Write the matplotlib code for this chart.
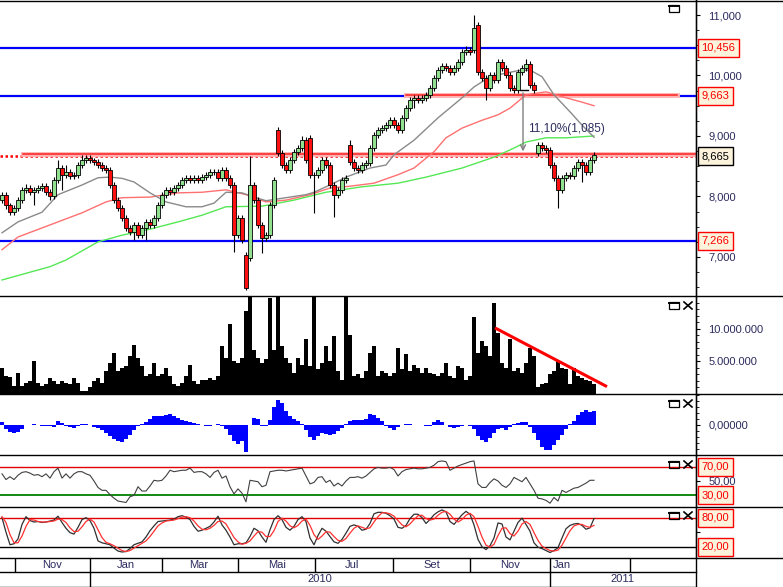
import numpy as np
import matplotlib.pyplot as plt
from matplotlib.patches import Rectangle
from matplotlib.lines import Line2D
from matplotlib.ticker import MultipleLocator

plt.rcParams['font.family'] = ['Liberation Sans', 'DejaVu Sans']

# one candle = two sessions, Oct 2009 .. Feb 2011
opn = [7950, 8025, 7860, 7745, 7810, 7940, 8105, 8140, 8075, 8105,
       8140, 8175, 8075, 8010, 8270, 8470, 8355, 8405, 8340, 8355,
       8520, 8600, 8635, 8600, 8570, 8520, 8470, 8440, 8190, 7940,
       7810, 7645, 7480, 7415, 7530, 7365, 7480, 7580, 7530, 7645,
       7860, 8025, 8105, 8075, 8140, 8190, 8275, 8305, 8275, 8305,
       8275, 8320, 8355, 8405, 8405, 8305, 8440, 8305, 8190, 7365,
       7645, 7030, 6980, 8190, 7940, 7530, 7315, 7365, 7860, 9100,
       8720, 8520, 8440, 8600, 8735, 8800, 8935, 8970, 8355, 8355,
       8440, 8600, 8520, 8190, 8025, 8105, 8275, 8850, 8570, 8470,
       8440, 8520, 8555, 8800, 9015, 9100, 9130, 9180, 9265, 9180,
       9100, 9300, 9465, 9595, 9630, 9595, 9630, 9680, 9795, 9960,
       10090, 10155, 10125, 10060, 10125, 10225, 10390, 10420, 10420, 10835,
       10060, 9960, 9795, 10010, 9925, 10225, 10125, 10010, 9795, 9760,
       10060, 10125, 10190, 9845, 8720, 8850, 8800, 8770, 8520, 8305,
       8105, 8305, 8355, 8340, 8470, 8570, 8520, 8405, 8600]
close = [8025, 7860, 7745, 7810, 7940, 8105, 8140, 8075, 8105, 8140,
         8175, 8075, 8010, 8270, 8470, 8355, 8405, 8340, 8355, 8520,
         8600, 8635, 8600, 8570, 8520, 8470, 8440, 8190, 7940, 7810,
         7645, 7480, 7415, 7530, 7365, 7480, 7580, 7530, 7645, 7860,
         8025, 8105, 8075, 8140, 8190, 8275, 8305, 8275, 8305, 8275,
         8320, 8355, 8405, 8405, 8305, 8440, 8305, 8190, 7365, 7645,
         7280, 6490, 8190, 7940, 7530, 7315, 7365, 7860, 8275, 8720,
         8520, 8440, 8600, 8735, 8800, 8935, 8600, 8355, 8355, 8440,
         8600, 8520, 8190, 8025, 8105, 8275, 8305, 8570, 8470, 8440,
         8520, 8555, 8800, 9015, 9100, 9130, 9180, 9265, 9180, 9100,
         9300, 9465, 9595, 9630, 9595, 9630, 9680, 9795, 9960, 10090,
         10155, 10125, 10060, 10125, 10225, 10390, 10420, 10390, 10785, 10060,
         9960, 9795, 10010, 9925, 10225, 10125, 10010, 9795, 9760, 10060,
         10125, 10190, 9845, 9760, 8850, 8800, 8770, 8520, 8305, 8105,
         8305, 8355, 8340, 8470, 8570, 8520, 8405, 8600, 8685]
high = [8080, 8070, 7900, 7860, 7990, 8160, 8200, 8190, 8150, 8190,
        8230, 8220, 8120, 8320, 8600, 8520, 8520, 8450, 8400, 8570,
        8680, 8680, 8680, 8640, 8620, 8570, 8520, 8480, 8240, 7990,
        7860, 7700, 7530, 7580, 7580, 7530, 7630, 7630, 7700, 7910,
        8080, 8160, 8160, 8190, 8240, 8330, 8360, 8360, 8360, 8360,
        8370, 8410, 8460, 8460, 8460, 8490, 8490, 8350, 8240, 7700,
        7700, 7080, 8670, 8240, 7990, 7580, 7420, 7910, 8330, 9150,
        8770, 8570, 8650, 8790, 8850, 9000, 8980, 9020, 8410, 8490,
        8650, 8650, 8570, 8240, 8160, 8330, 8360, 8930, 8620, 8520,
        8570, 8610, 8850, 9070, 9150, 9180, 9230, 9320, 9320, 9230,
        9350, 9520, 9650, 9680, 9680, 9680, 9730, 9850, 10010, 10140,
        10210, 10210, 10180, 10180, 10280, 10440, 10480, 10470, 11000, 10880,
        10110, 10010, 10060, 10060, 10280, 10280, 10180, 10060, 9850, 10110,
        10180, 10280, 10240, 9900, 8900, 8900, 8850, 8820, 8570, 8350,
        8350, 8410, 8410, 8520, 8620, 8620, 8570, 8650, 8740]
low = [7900, 7800, 7700, 7690, 7760, 7900, 8060, 8020, 7860, 8060,
       8090, 8020, 7950, 7960, 8220, 8100, 8300, 8290, 8290, 8300,
       8470, 8550, 8550, 8520, 8470, 8420, 8390, 8140, 7890, 7760,
       7590, 7430, 7360, 7280, 7310, 7320, 7280, 7480, 7480, 7600,
       7810, 7970, 8020, 8020, 8090, 8140, 8220, 8220, 8220, 8220,
       8220, 8270, 8300, 8350, 8250, 8250, 8250, 8140, 7080, 7310,
       7230, 6450, 6930, 7890, 7480, 7060, 7260, 7310, 7810, 8670,
       8470, 8390, 8390, 8550, 8680, 8750, 8550, 8300, 7720, 8300,
       8390, 8470, 8140, 7660, 7970, 8050, 8220, 8520, 8420, 8390,
       8390, 8470, 8500, 8750, 8960, 9050, 9080, 9130, 9130, 9050,
       9050, 9250, 9410, 9460, 9540, 9540, 9580, 9630, 9740, 9910,
       10040, 10070, 10010, 10010, 10070, 10170, 10340, 10340, 10370, 10010,
       9910, 9590, 9740, 9870, 9870, 10070, 9960, 9740, 9710, 9710,
       10010, 10070, 9790, 9710, 8670, 8750, 8720, 8470, 8250, 7810,
       8050, 8250, 8290, 8290, 8420, 8240, 8350, 8350, 8550]

# volume in millions
volume = [4.0, 2.8, 2.6, 1.2, 3.3, 1.2, 1.7, 2.0, 5.0, 1.7,
          1.2, 1.5, 2.5, 2.0, 1.5, 2.0, 1.7, 1.5, 2.5, 1.7,
          0.5, 0.5, 1.0, 2.0, 2.5, 1.7, 3.5, 4.8, 6.3, 3.5,
          4.0, 4.3, 5.8, 7.6, 5.6, 4.3, 2.8, 3.0, 4.8, 2.8,
          3.0, 4.0, 2.8, 1.5, 1.2, 1.7, 2.8, 4.5, 2.0, 1.5,
          2.2, 2.2, 2.5, 2.2, 2.8, 7.3, 5.6, 10.7, 5.0, 4.8,
          5.6, 12.7, 15.5, 6.8, 5.6, 4.8, 5.3, 14.7, 6.8, 15.5,
          7.3, 5.6, 4.8, 3.3, 5.6, 4.5, 8.4, 4.3, 15.5, 3.8,
          4.8, 7.3, 5.0, 8.9, 3.5, 2.2, 15.5, 9.1, 2.8, 3.0,
          2.5, 3.5, 6.3, 7.3, 2.8, 3.5, 3.3, 2.8, 3.3, 7.1,
          3.8, 6.1, 3.5, 4.5, 4.0, 3.3, 4.0, 3.3, 3.0, 2.8,
          3.3, 4.8, 2.8, 2.5, 4.3, 4.0, 2.2, 2.8, 11.9, 6.3,
          8.1, 7.3, 5.8, 14.0, 9.4, 4.8, 4.0, 8.4, 3.5, 4.0,
          3.3, 4.8, 7.1, 5.8, 1.0, 1.5, 1.7, 3.0, 3.5, 5.0,
          4.0, 3.8, 1.5, 4.0, 2.8, 2.5, 2.2, 2.0, 1.5]

# oscillator histogram (x 1e-3)
macd_hist = [3, -4, -7, -8, -7, -4, 0, 0, 1, 0,
             -1, -1, -1, -2, 4, 2, -1, -2, -3, -1,
             1, 1, 0, -2, -3, -5, -8, -11, -14, -16,
             -17, -14, -10, -5, -1, 1, 3, 6, 9, 9,
             9, 10, 11, 9, 7, 5, 4, 3, 2, 1,
             0, -1, -1, 0, 1, -1, -4, -10, -16, -19,
             -16, -27, 0, 7, 6, -1, -1, 5, 18, 25,
             22, 14, 9, 6, 4, 1, -5, -12, -15, -11,
             -8, -9, -10, -9, -6, -3, 1, 4, 5, 5,
             5, 6, 11, 10, 7, 4, -1, -3, -5, -2,
             0, 1, 1, 0, 0, 0, -1, -1, 3, 5,
             3, 0, -2, -3, -2, -1, 0, -1, -4, -11,
             -15, -17, -13, -8, -4, -3, -5, -2, 1, 2,
             3, 3, -2, -8, -15, -22, -25, -25, -20, -15,
             -10, -4, 1, 4, 10, 13, 15, 13, 14]

rsi = [60, 52, 56, 52, 58, 62, 63, 61, 58, 59,
       56, 60, 54, 63, 68, 54, 60, 54, 60, 63,
       63, 60, 58, 50, 41, 37, 37, 31, 26, 22,
       21, 20, 28, 30, 42, 36, 36, 43, 51, 50,
       51, 57, 65, 63, 64, 65, 65, 68, 62, 63,
       63, 60, 55, 62, 65, 54, 57, 42, 32, 39,
       33, 21, 51, 50, 49, 42, 44, 63, 64, 65,
       65, 64, 65, 66, 67, 68, 57, 46, 48, 55,
       56, 48, 51, 43, 47, 43, 50, 55, 55, 56,
       54, 57, 62, 67, 69, 68, 68, 69, 66, 57,
       63, 66, 67, 68, 67, 67, 68, 69, 72, 77,
       78, 77, 65, 68, 71, 73, 75, 77, 78, 46,
       41, 41, 48, 53, 50, 44, 41, 46, 55, 52,
       49, 55, 46, 37, 26, 25, 23, 19, 27, 22,
       37, 34, 37, 40, 41, 44, 47, 51, 51]

stoch_k = [80, 50, 24, 26, 36, 66, 82, 74, 71, 72,
           70, 71, 73, 75, 83, 70, 58, 49, 46, 60,
           76, 80, 74, 58, 32, 28, 26, 24, 17, 11,
           9, 10, 16, 24, 27, 30, 40, 53, 63, 72,
           73, 74, 75, 77, 82, 84, 81, 76, 62, 52,
           54, 58, 62, 71, 83, 65, 54, 40, 24, 26,
           26, 28, 41, 58, 53, 40, 29, 55, 76, 84,
           76, 60, 54, 62, 76, 82, 72, 38, 24, 43,
           58, 52, 41, 30, 27, 35, 48, 62, 65, 62,
           54, 56, 68, 88, 91, 91, 89, 84, 77, 60,
           58, 64, 78, 87, 87, 80, 68, 76, 86, 92,
           96, 92, 72, 66, 76, 86, 93, 87, 65, 35,
           20, 14, 22, 38, 69, 67, 40, 34, 52, 70,
           79, 66, 52, 28, 19, 16, 12, 8, 12, 18,
           38, 57, 64, 67, 68, 64, 56, 59, 78]
stoch_d = [82, 70, 45, 28, 28, 42, 62, 76, 75, 72,
           71, 71, 72, 73, 77, 76, 70, 59, 51, 52,
           61, 72, 77, 71, 55, 39, 29, 26, 22, 17,
           12, 10, 12, 17, 22, 27, 32, 41, 52, 63,
           69, 73, 74, 75, 78, 81, 82, 80, 73, 63,
           56, 55, 58, 64, 72, 73, 67, 53, 39, 30,
           25, 27, 32, 42, 51, 50, 41, 41, 53, 72,
           79, 73, 63, 59, 64, 73, 77, 64, 45, 35,
           42, 51, 50, 41, 33, 31, 37, 48, 58, 63,
           60, 57, 59, 71, 82, 90, 90, 88, 83, 74,
           65, 61, 67, 76, 84, 85, 78, 75, 77, 85,
           91, 93, 87, 77, 71, 76, 85, 89, 82, 62,
           40, 23, 19, 25, 43, 58, 59, 47, 42, 52,
           67, 72, 66, 49, 33, 21, 16, 12, 11, 13,
           23, 38, 53, 63, 66, 66, 62, 60, 64]

# moving averages, sampled at candle positions
ma_gray_x = [0, 4, 10, 14, 20, 24, 27, 30, 33, 37, 41, 46, 50, 53, 56, 60, 63, 66, 72, 76,
             78, 82, 86, 92, 96, 98, 103, 109, 115, 118, 122, 126, 129, 132, 135, 138, 142,
             145, 148]
ma_gray = [7400, 7580, 7740, 8030, 8190, 8310, 8320, 8300, 8240, 8060, 7910, 7830, 7830, 7890,
           8070, 8060, 7990, 7930, 7990, 8030, 8070, 8190, 8320, 8470, 8520, 8690, 8930, 9300,
           9630, 9810, 9980, 10040, 10080, 10090, 9980, 9680, 9400, 9180, 8980]
ma_red_x = [0, 4, 12, 20, 26, 30, 37, 44, 50, 56, 61, 66, 71, 77, 82, 87, 93, 99, 103, 108,
            111, 115, 120, 124, 127, 131, 136, 140, 145, 148]
ma_red = [7120, 7330, 7530, 7730, 7910, 7980, 7990, 8060, 8070, 8110, 8030, 7910, 7940, 8030,
          8140, 8170, 8220, 8360, 8470, 8740, 8970, 9130, 9260, 9350, 9460, 9680, 9730, 9650,
          9560, 9500]
ma_green_x = [0, 12, 16, 24, 30, 37, 44, 50, 56, 65, 73, 81, 90, 99, 106, 115, 123, 128, 131,
              136, 141, 148]
ma_green = [6620, 6840, 6950, 7250, 7360, 7460, 7580, 7690, 7830, 7840, 7940, 8070, 8160, 8220,
            8320, 8470, 8650, 8800, 8900, 8970, 8970, 9000]

blue_levels = [10456, 9663, 7266]
res_level = 8665
trend_x = [123.25, 151.25]
trend_y = [10.15, 1.13]

month_edges = [3.25, 22, 40, 59, 78.25, 97.75, 117, 137, 157]
month_pos = [12.5, 31, 49.25, 68.75, 87.5, 107.5, 127, 140]
month_lbl = ['Nov', 'Jan', 'Mar', 'Mai', 'Jul', 'Set', 'Nov', 'Jan']
year_edges = [22, 137]
year_pos = [79.5, 155]
year_lbl = ['2010', '2011']

W, H = 783, 587
XR = 696
TXT = '#2b2b5e'

n = len(close)
idx = np.arange(n)
opn_a, close_a = np.array(opn), np.array(close)

fig = plt.figure(figsize=(W / 100, H / 100), dpi=100)


def panel(top, bottom):
    ax = fig.add_axes([0, 1 - bottom / H, XR / W, (bottom - top) / H])
    ax.set_xlim(-0.5, 173.5)
    ax.set_xticks([])
    for s in ['left', 'top', 'bottom']:
        ax.spines[s].set_visible(False)
    ax.spines['right'].set_linewidth(0.9)
    ax.yaxis.tick_right()
    ax.tick_params(axis='y', which='major', direction='out', length=3, width=0.8,
                   labelsize=8, labelcolor=TXT, pad=6)
    ax.tick_params(axis='y', which='minor', direction='out', length=2, width=0.6)
    return ax


def box_label(ax, y, text, color='red'):
    ax.text(1.008, y, text, transform=ax.get_yaxis_transform(), va='center', ha='left',
            fontsize=8, color=color, clip_on=False,
            bbox=dict(boxstyle='square,pad=0.35', fc='#fbf3dc', ec=color, lw=1))


# price panel
ax = panel(0, 296)
ax.set_ylim(6355, 11248)
ax.set_yticks([7000, 8000, 9000, 10000, 11000])
ax.set_yticklabels([f'{v:,}' for v in [7000, 8000, 9000, 10000, 11000]])
ax.yaxis.set_minor_locator(MultipleLocator(250))

for lv in blue_levels:
    ax.axhline(lv, color='#0000ff', lw=1.6, zorder=1)
ax.axhline(res_level, color='#ff0000', lw=1.8, ls=(0, (1, 1)), zorder=1)
ax.plot([5.25, 173.5], [res_level + 35, res_level + 35], color='#ffb4b4', lw=3.5, zorder=1)
ax.plot([5.25, 173.5], [res_level + 35, res_level + 35], color='#ff2020', lw=1.1, zorder=1)
ax.plot([101, 168.75], [blue_levels[1] + 15] * 2, color='#ffb4b4', lw=3.5, zorder=1)
ax.plot([101, 168.75], [blue_levels[1] + 15] * 2, color='#ff2020', lw=1.1, zorder=1)

ax.plot(ma_green_x, ma_green, color='#55e855', lw=1, zorder=2)
ax.plot(ma_red_x, ma_red, color='#ff7070', lw=1, zorder=2)
ax.plot(ma_gray_x, ma_gray, color='#8a8a8a', lw=1, zorder=2)

up = close_a >= opn_a
ax.vlines(idx, low, high, color='black', lw=0.8, zorder=3)
ax.bar(idx, close_a - opn_a, bottom=opn_a, width=0.78,
       color=np.where(up, '#90e090', '#ff1010'), edgecolor='black', linewidth=0.6, zorder=4)

ax.annotate('', xy=(130.25, res_level + 35), xytext=(130.25, 9760),
            arrowprops=dict(arrowstyle='->', color='#808080', lw=1, mutation_scale=9))
ax.plot([129.4, 131.5], [9760, 9760], color='black', lw=1)
ax.text(131.5, 9116, '11,10%(1,085)', fontsize=8.5, color=TXT, va='center', ha='left')

box_label(ax, 10456, '10,456')
box_label(ax, 9663, '9,663')
box_label(ax, res_level, '8,665', 'black')
box_label(ax, 7266, '7,266')

# volume
av = panel(296, 394)
av.bar(idx, volume, width=0.85, color='black', lw=0)
av.set_ylim(0, 15.05)
av.set_yticks([5, 10])
av.set_yticklabels(['5.000.000', '10.000.000'])
av.yaxis.set_minor_locator(MultipleLocator(1))
av.plot(trend_x, trend_y, color='#ff0000', lw=2.2, solid_capstyle='butt')

# oscillator histogram
am = panel(394, 455)
am.bar(idx, macd_hist, width=1.0, color='#0000ff', lw=0)
am.set_ylim(-30, 31)
am.set_yticks([0])
am.set_yticklabels(['0,00000'])
am.yaxis.set_minor_locator(MultipleLocator(6))

# RSI
ar = panel(455, 507)
ar.set_ylim(13.7, 86.3)
ar.axhline(70, color='#e00000', lw=1)
ar.axhline(30, color='#008000', lw=1.3)
ar.plot(idx, rsi, color='#404040', lw=0.8)
ar.set_yticks([50])
ar.set_yticklabels(['50,00'])
box_label(ar, 70, '70,00')
box_label(ar, 30, '30,00')

# stochastic
ast = panel(507, 558)
ast.set_ylim(-3.4, 102)
ast.axhline(80, color='#e00000', lw=1)
ast.axhline(20, color='black', lw=1)
ast.plot(idx, stoch_k, color='#303030', lw=0.9)
ast.plot(idx, stoch_d, color='#ff3030', lw=0.9)
ast.set_yticks([50])
ast.set_yticklabels([''])
box_label(ast, 80, '80,00')
box_label(ast, 20, '20,00')

# date axis
ad = fig.add_axes([0, 0, XR / W, 29 / H])
ad.set_xlim(-0.5, 173.5)
ad.set_ylim(0, 29)
ad.axis('off')
ad.vlines(month_edges, 15, 29, color='black', lw=1)
ad.vlines(year_edges, 0, 15, color='black', lw=1)
for p, t in zip(month_pos, month_lbl):
    ad.text(p, 22, t, ha='center', va='center', fontsize=8, color=TXT)
for p, t in zip(year_pos, year_lbl):
    ad.text(p, 7.5, t, ha='center', va='center', fontsize=8, color=TXT)


def fig_line(x0, y0, x1, y1, lw=1):
    fig.add_artist(Line2D([x0 / W, x1 / W], [1 - y0 / H, 1 - y1 / H], color='black', lw=lw))


for y in [0.5, 296, 394, 455, 507, 558]:
    fig_line(0, y, W, y)
fig_line(0, 572, XR, 572)
fig_line(0, 586.5, XR, 586.5)
fig_line(XR, 0, XR, H)

# panel buttons
for y, with_x in [(5, False), (302, True), (400, True), (461, True), (512, True)]:
    fig.add_artist(Rectangle((669 / W, 1 - (y + 7) / H), 10 / W, 7 / H, fill=False,
                             lw=0.9, transform=fig.transFigure))
    fig_line(669, y + 0.6, 679, y + 0.6, lw=1.4)
    if with_x:
        fig_line(684, y, 692, y + 7, lw=1.2)
        fig_line(684, y + 7, 692, y, lw=1.2)

fig.savefig('out.png', dpi=100)
